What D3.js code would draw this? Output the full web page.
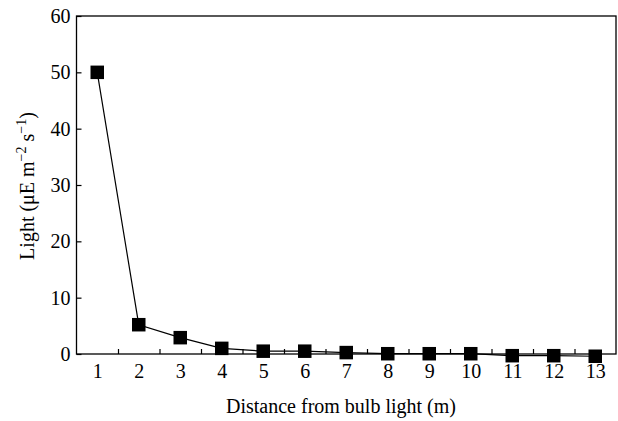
<!DOCTYPE html>
<html>
<head>
<meta charset="utf-8">
<script src="https://cdn.jsdelivr.net/npm/d3@7"></script>
<style>
  body { margin: 0; background: #fff; }
  text { font-family: "Liberation Serif", "Times New Roman", serif; fill: #000; }
</style>
</head>
<body>
<script>
// distance from bulb (m) and light reading
const distances = [1, 2, 3, 4, 5, 6, 7, 8, 9, 10, 11, 12, 13];
const light = [50, 5.2, 2.9, 1.0, 0.5, 0.5, 0.25, 0.05, 0.05, 0.05, -0.3, -0.3, -0.4];
const yTicks = [0, 10, 20, 30, 40, 50, 60];
const xMinorTicks = [1.5, 2.5, 3.5, 4.5, 5.5, 6.5, 7.5, 8.5, 9.5, 10.5, 11.5, 12.5];

let canvasW = 618;
let canvasH = 421;
let margin = ({top: 16, right: 2, bottom: 67, left: 76.5});

let xScale = d3.scaleLinear()
  .domain([0.5, 13.5])
  .range([margin.left, canvasW - margin.right]);
let yScale = d3.scaleLinear()
  .domain([0, 60])
  .range([canvasH - margin.bottom, margin.top]);

let svg = d3.select("body")
  .append("svg")
    .attr("width", canvasW)
    .attr("height", canvasH)
    .style("background-color", "#fff");

// x axis: labels at integers, small inward ticks in between
let xAxis = svg.append("g")
  .attr("transform", "translate(0," + yScale(0) + ")");
d3.axisBottom(xScale)
  .tickValues(distances)
  .tickSize(0)
  .tickPadding(10)
  .tickFormat(d3.format("d"))(xAxis);

let xMinor = svg.append("g")
  .attr("transform", "translate(0," + yScale(0) + ")");
d3.axisBottom(xScale)
  .tickValues(xMinorTicks)
  .tickSize(-5)
  .tickFormat("")(xMinor);

let yAxis = svg.append("g")
  .attr("transform", "translate(" + margin.left + ",0)");
d3.axisLeft(yScale)
  .tickValues(yTicks)
  .tickSizeInner(-5)
  .tickSizeOuter(0)
  .tickPadding(6)(yAxis);

svg.selectAll(".domain").remove();
svg.selectAll(".tick line").attr("stroke", "#000").attr("stroke-width", 1.2);
svg.selectAll(".tick text")
  .attr("font-family", "'Liberation Serif', serif")
  .attr("font-size", "20px")
  .attr("fill", "#000");

// frame
svg.append("rect")
  .attr("x", xScale(0.5))
  .attr("y", yScale(60))
  .attr("width", xScale(13.5) - xScale(0.5))
  .attr("height", yScale(0) - yScale(60))
  .attr("fill", "none")
  .attr("stroke", "#000")
  .attr("stroke-width", 1.3);

const pts = distances.map((d, i) => [d, light[i]]);

svg.append("path")
  .datum(pts)
  .attr("fill", "none")
  .attr("stroke", "#000")
  .attr("stroke-width", 1.2)
  .attr("d", d3.line().x(d => xScale(d[0])).y(d => yScale(d[1])));

const ms = 13.5;
svg.selectAll(".pt")
  .data(pts)
  .enter()
  .append("rect")
    .attr("class", "pt")
    .attr("x", d => xScale(d[0]) - ms / 2)
    .attr("y", d => yScale(d[1]) - ms / 2)
    .attr("width", ms)
    .attr("height", ms)
    .attr("fill", "#000");

// axis titles
svg.append("text")
  .attr("x", 341)
  .attr("y", 413)
  .attr("text-anchor", "middle")
  .attr("font-size", "20px")
  .text("Distance from bulb light (m)");

const yText = svg.append("text")
  .attr("text-anchor", "middle")
  .attr("font-size", "20px")
  .attr("transform", "translate(34,186) rotate(-90)");
yText.append("tspan").text("Light (μE m");
yText.append("tspan").attr("dy", -8).attr("font-size", "14px").text("−2");
yText.append("tspan").attr("dy", 8).text(" s");
yText.append("tspan").attr("dy", -8).attr("font-size", "14px").text("−1");
yText.append("tspan").attr("dy", 8).text(")");
</script>
</body>
</html>
